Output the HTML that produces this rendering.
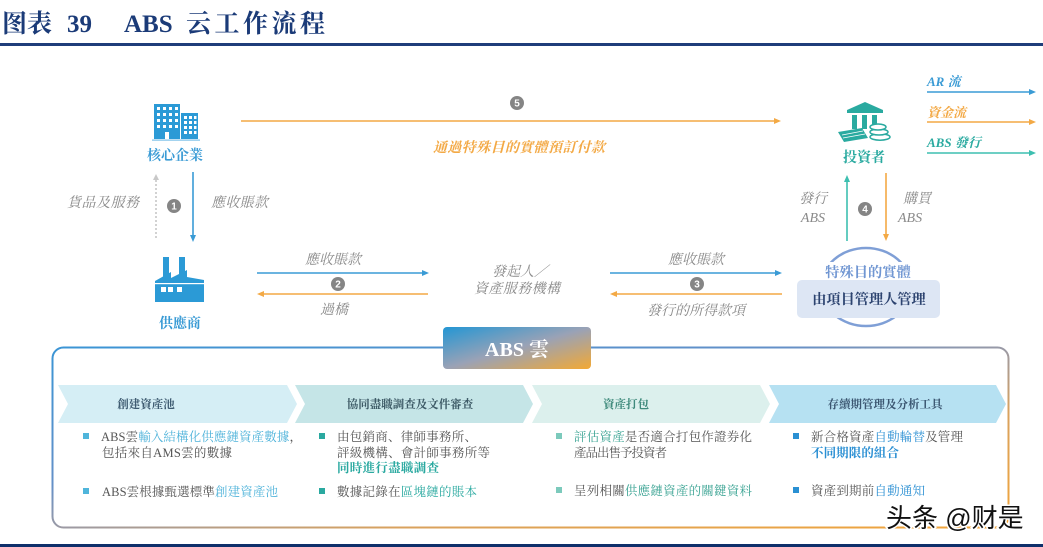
<!DOCTYPE html>
<html><head><meta charset="utf-8"><style>
html,body{margin:0;padding:0;background:#fff;}
svg{display:block;}
text{font-family:"Liberation Serif","Noto Serif CJK SC","Noto Serif CJK TC",serif;}
.it{font-style:italic;fill:#8a8a8a;font-size:14px;}
.num{font-family:"Liberation Sans",sans-serif;font-size:10px;font-weight:bold;fill:#fff;}
.bt{font-size:12.5px;fill:#555;}
.ch{font-size:11.5px;font-weight:bold;}
</style></head><body>
<svg width="1043" height="547" viewBox="0 0 1043 547" xmlns="http://www.w3.org/2000/svg">
<defs>
<linearGradient id="hg" x1="0" y1="0" x2="1" y2="1">
<stop offset="0" stop-color="#2396d4"/><stop offset="0.5" stop-color="#9aa2b6"/><stop offset="1" stop-color="#f3a934"/>
</linearGradient>
<linearGradient id="bg" x1="0" y1="0" x2="1" y2="1">
<stop offset="0" stop-color="#3b95d5"/><stop offset="0.38" stop-color="#6490c8"/><stop offset="0.5" stop-color="#9a9aa6"/><stop offset="0.68" stop-color="#d9a25e"/><stop offset="1" stop-color="#f2a53a"/>
</linearGradient>
</defs>

<!-- title -->
<text x="2" y="32" font-size="25" font-weight="bold" fill="#1b3b78">图表</text>
<text x="67" y="32" font-size="25" font-weight="bold" fill="#1b3b78">39</text>
<text x="124" y="32" font-size="25" font-weight="bold" fill="#1b3b78">ABS</text>
<text x="186" y="32" font-size="25" font-weight="bold" fill="#1b3b78" textLength="139" lengthAdjust="spacing">云工作流程</text>
<rect x="0" y="43" width="1043" height="3" fill="#1f3d7a"/>
<rect x="0" y="544" width="1043" height="3" fill="#0f2f6a"/>

<!-- core enterprise icon -->
<g fill="#2b9ad6">
<rect x="154" y="104" width="26" height="35"/>
<rect x="181" y="113" width="17" height="26"/>
<rect x="152" y="139.5" width="48" height="1.2" fill="#7cc0e8"/>
</g>
<g fill="#fff">
<rect x="157" y="107" width="3" height="3"/><rect x="163" y="107" width="3" height="3"/><rect x="169" y="107" width="3" height="3"/><rect x="175" y="107" width="3" height="3"/>
<rect x="157" y="113" width="3" height="3"/><rect x="163" y="113" width="3" height="3"/><rect x="169" y="113" width="3" height="3"/><rect x="175" y="113" width="3" height="3"/>
<rect x="157" y="119" width="3" height="3"/><rect x="163" y="119" width="3" height="3"/><rect x="169" y="119" width="3" height="3"/><rect x="175" y="119" width="3" height="3"/>
<rect x="157" y="125" width="3" height="3"/><rect x="163" y="125" width="3" height="3"/><rect x="169" y="125" width="3" height="3"/><rect x="175" y="125" width="3" height="3"/>
<rect x="165" y="132" width="4" height="7"/>
<rect x="184" y="116" width="3" height="3"/><rect x="189" y="116" width="3" height="3"/><rect x="194" y="116" width="2.5" height="3"/>
<rect x="184" y="121" width="3" height="3"/><rect x="189" y="121" width="3" height="3"/><rect x="194" y="121" width="2.5" height="3"/>
<rect x="184" y="126" width="3" height="3"/><rect x="189" y="126" width="3" height="3"/><rect x="194" y="126" width="2.5" height="3"/>
<rect x="184" y="131" width="3" height="3"/><rect x="189" y="131" width="3" height="3"/><rect x="194" y="131" width="2.5" height="3"/>
</g>
<text x="175" y="160" font-size="14" font-weight="bold" fill="#3a9bd5" text-anchor="middle">核心企業</text>

<!-- arrow 5 -->
<line x1="241" y1="121" x2="776" y2="121" stroke="#f3a945" stroke-width="1.6"/>
<polygon points="781,121 774,118 774,124" fill="#f3a945"/>
<circle cx="517" cy="103" r="7" fill="#858585"/><text x="517" y="106.5" class="num" text-anchor="middle">5</text>
<text x="519" y="152" font-size="14" font-style="italic" font-weight="bold" fill="#f3a945" text-anchor="middle" textLength="172" lengthAdjust="spacing">通過特殊目的實體預訂付款</text>

<!-- investor icon -->
<g fill="#2aaaa0">
<polygon points="847,110 865,102 883,110"/>
<rect x="847" y="110" width="36" height="3"/>
<rect x="852" y="115" width="5" height="14"/><rect x="862" y="115" width="5" height="14"/><rect x="872" y="115" width="5" height="12"/>
<polygon points="838,132 862,128 868,138 844,142"/>
</g>
<g fill="#fff" stroke="#2aaaa0" stroke-width="1.5">
<ellipse cx="880" cy="137" rx="10" ry="3.2"/>
<ellipse cx="879" cy="132" rx="9" ry="3"/>
<ellipse cx="878" cy="127" rx="8" ry="3"/>
</g>
<g stroke="#fff" stroke-width="0.8"><line x1="842" y1="135" x2="863" y2="131"/><line x1="843" y1="138" x2="865" y2="134"/></g>
<text x="864" y="162" font-size="14" font-weight="bold" fill="#2aaaa0" text-anchor="middle">投資者</text>

<!-- legend -->
<text x="927" y="86" font-size="13" font-style="italic" font-weight="bold" fill="#3a9bd5">AR 流</text>
<line x1="927" y1="92" x2="1030" y2="92" stroke="#3a9bd5" stroke-width="1.5"/><polygon points="1036,92 1029,89 1029,95" fill="#3a9bd5"/>
<text x="927" y="117" font-size="13" font-style="italic" font-weight="bold" fill="#f3a945">資金流</text>
<line x1="927" y1="122" x2="1030" y2="122" stroke="#f3a945" stroke-width="1.5"/><polygon points="1036,122 1029,119 1029,125" fill="#f3a945"/>
<text x="927" y="147" font-size="13" font-style="italic" font-weight="bold" fill="#2aaaa0">ABS 發行</text>
<line x1="927" y1="153" x2="1030" y2="153" stroke="#3dbfb0" stroke-width="1.5"/><polygon points="1036,153 1029,150 1029,156" fill="#3dbfb0"/>

<!-- arrow 1 -->
<line x1="156" y1="180" x2="156" y2="240" stroke="#b5b5b5" stroke-width="1.2" stroke-dasharray="2,2"/>
<polygon points="156,174 153,180 159,180" fill="#c8c8c8"/>
<line x1="193" y1="172" x2="193" y2="236" stroke="#3a9bd5" stroke-width="1.6"/>
<polygon points="193,242 190,235 196,235" fill="#3a9bd5"/>
<circle cx="174" cy="206" r="7" fill="#858585"/><text x="174" y="209.5" class="num" text-anchor="middle">1</text>
<text x="67" y="207" class="it" textLength="72" lengthAdjust="spacing">貨品及服務</text>
<text x="211" y="207" class="it" textLength="57" lengthAdjust="spacing">應收賬款</text>

<!-- factory -->
<g fill="#2b9ad6">
<rect x="163" y="257" width="6" height="20"/>
<rect x="179" y="257" width="6" height="18"/>
<polygon points="155,281 171,272 171,278 187,270 187,277 204,280 204,302 155,302"/>
</g>
<rect x="155" y="283" width="49" height="1.2" fill="#fff"/>
<g fill="#fff"><rect x="161" y="287" width="5" height="5"/><rect x="168" y="287" width="5" height="5"/><rect x="177" y="287" width="5" height="5"/></g>
<text x="180" y="328" font-size="14" font-weight="bold" fill="#3a9bd5" text-anchor="middle">供應商</text>

<!-- arrow 2 -->
<line x1="257" y1="273" x2="423" y2="273" stroke="#3a9bd5" stroke-width="1.6"/><polygon points="429,273 422,270 422,276" fill="#3a9bd5"/>
<line x1="263" y1="294" x2="428" y2="294" stroke="#f3a945" stroke-width="1.6"/><polygon points="257,294 264,291 264,297" fill="#f3a945"/>
<circle cx="338" cy="284" r="7" fill="#858585"/><text x="338" y="287.5" class="num" text-anchor="middle">2</text>
<text x="333" y="264" class="it" text-anchor="middle">應收賬款</text>
<text x="334" y="314" class="it" text-anchor="middle">過橋</text>

<text x="520" y="276" class="it" text-anchor="middle">發起人／</text>
<text x="517" y="293" class="it" text-anchor="middle" textLength="86" lengthAdjust="spacing">資產服務機構</text>

<!-- arrow 3 -->
<line x1="610" y1="273" x2="776" y2="273" stroke="#3a9bd5" stroke-width="1.6"/><polygon points="782,273 775,270 775,276" fill="#3a9bd5"/>
<line x1="616" y1="294" x2="782" y2="294" stroke="#f3a945" stroke-width="1.6"/><polygon points="610,294 617,291 617,297" fill="#f3a945"/>
<circle cx="697" cy="284" r="7" fill="#858585"/><text x="697" y="287.5" class="num" text-anchor="middle">3</text>
<text x="696" y="264" class="it" text-anchor="middle">應收賬款</text>
<text x="696" y="315" class="it" text-anchor="middle" textLength="98" lengthAdjust="spacing">發行的所得款項</text>

<!-- arrow 4 -->
<line x1="847" y1="181" x2="847" y2="241" stroke="#3dbfb0" stroke-width="1.6"/><polygon points="847,175 844,182 850,182" fill="#3dbfb0"/>
<line x1="886" y1="173" x2="886" y2="235" stroke="#f3a945" stroke-width="1.6"/><polygon points="886,241 883,234 889,234" fill="#f3a945"/>
<circle cx="865" cy="209" r="7" fill="#858585"/><text x="865" y="212.5" class="num" text-anchor="middle">4</text>
<text x="827" y="203" class="it" text-anchor="end">發行</text>
<text x="825" y="222" class="it" text-anchor="end">ABS</text>
<text x="903" y="203" class="it">購買</text>
<text x="898" y="222" class="it">ABS</text>

<!-- special entity -->
<ellipse cx="866" cy="287" rx="45" ry="39" fill="none" stroke="#7f9fd6" stroke-width="2.5"/>
<rect x="815" y="262" width="102" height="19" fill="#fff"/>
<text x="868" y="277" font-size="14.3" font-weight="bold" fill="#7096d2" text-anchor="middle">特殊目的實體</text>
<rect x="797" y="280" width="143" height="38" rx="5" fill="#dde6f4"/>
<text x="869" y="304" font-size="14.2" font-weight="bold" fill="#2d4470" text-anchor="middle">由項目管理人管理</text>

<!-- ABS cloud frame -->
<rect x="52.5" y="347.5" width="956" height="180" rx="11" fill="none" stroke="url(#bg)" stroke-width="2"/>
<rect x="443" y="327" width="148" height="42" rx="4" fill="url(#hg)"/>
<text x="517" y="356" font-size="20" font-weight="bold" fill="#fff" text-anchor="middle">ABS 雲</text>

<!-- chevrons -->
<polygon points="58,385 287,385 297,404 287,423 58,423 68,404" fill="#d5eef5"/>
<polygon points="295,385 523,385 533,404 523,423 295,423 305,404" fill="#c5e5e7"/>
<polygon points="532,385 760,385 770,404 760,423 532,423 542,404" fill="#dcf0ed"/>
<polygon points="769,385 996,385 1006,404 996,423 769,423 779,404" fill="#b6e1f2"/>
<text x="146" y="408" class="ch" fill="#3d5a70" text-anchor="middle">創建資產池</text>
<text x="410" y="408" class="ch" fill="#3d5a66" text-anchor="middle">協同盡職調查及文件審查</text>
<text x="626" y="408" class="ch" fill="#3f8a7c" text-anchor="middle">資產打包</text>
<text x="885" y="408" class="ch" fill="#3a5570" text-anchor="middle">存續期管理及分析工具</text>

<!-- bullets col1 -->
<rect x="83" y="433" width="6" height="6" fill="#4fb5db"/>
<text x="101" y="441" class="bt" textLength="201" lengthAdjust="spacing">ABS雲<tspan style="fill:#4fb3da">輸入結構化供應鏈資產數據</tspan>，</text>
<text x="102" y="457" class="bt" textLength="130" lengthAdjust="spacing">包括來自AMS雲的數據</text>
<rect x="83" y="488" width="6" height="6" fill="#4fb5db"/>
<text x="102" y="496" class="bt" textLength="176" lengthAdjust="spacing">ABS雲根據甄選標準<tspan style="fill:#4fb3da">創建資產池</tspan></text>

<!-- col2 -->
<rect x="319" y="433" width="6" height="6" fill="#2aa9a0"/>
<text x="337" y="441" class="bt" textLength="140" lengthAdjust="spacing">由包銷商、律師事務所、</text>
<text x="337" y="457" class="bt" textLength="153" lengthAdjust="spacing">評級機構、會計師事務所等</text>
<text x="337" y="472" class="bt" style="fill:#2aa9a0;font-weight:bold" textLength="102" lengthAdjust="spacing">同時進行盡職調查</text>
<rect x="319" y="488" width="6" height="6" fill="#2aa9a0"/>
<text x="337" y="496" class="bt" textLength="140" lengthAdjust="spacing">數據記錄在<tspan style="fill:#2aa9a0">區塊鏈的賬本</tspan></text>

<!-- col3 -->
<rect x="556" y="433" width="6" height="6" fill="#7ccabc"/>
<text x="574" y="441" class="bt" textLength="178" lengthAdjust="spacing"><tspan style="fill:#3aa393">評估資產</tspan>是否適合打包作證券化</text>
<text x="574" y="457" class="bt" textLength="93" lengthAdjust="spacing">產品出售予投資者</text>
<rect x="556" y="487" width="6" height="6" fill="#7ccabc"/>
<text x="574" y="495" class="bt" textLength="178" lengthAdjust="spacing">呈列相關<tspan style="fill:#3aa393">供應鏈資產的關鍵資料</tspan></text>

<!-- col4 -->
<rect x="793" y="433" width="6" height="6" fill="#2a90d3"/>
<text x="811" y="441" class="bt" textLength="152" lengthAdjust="spacing">新合格資產<tspan style="fill:#2a8fd3">自動輪替</tspan>及管理</text>
<text x="811" y="457" class="bt" style="fill:#2a8fd3;font-weight:bold" textLength="88" lengthAdjust="spacing">不同期限的組合</text>
<rect x="793" y="487" width="6" height="6" fill="#2a90d3"/>
<text x="811" y="495" class="bt" textLength="114" lengthAdjust="spacing">資產到期前<tspan style="fill:#2a8fd3">自動通知</tspan></text>

<!-- watermark -->
<text x="886" y="527" font-size="26" fill="#111" stroke="#fff" stroke-width="3" paint-order="stroke" style="font-family:'Liberation Sans','Noto Sans CJK SC',sans-serif;">头条 @财是</text>
</svg>
</body></html>
